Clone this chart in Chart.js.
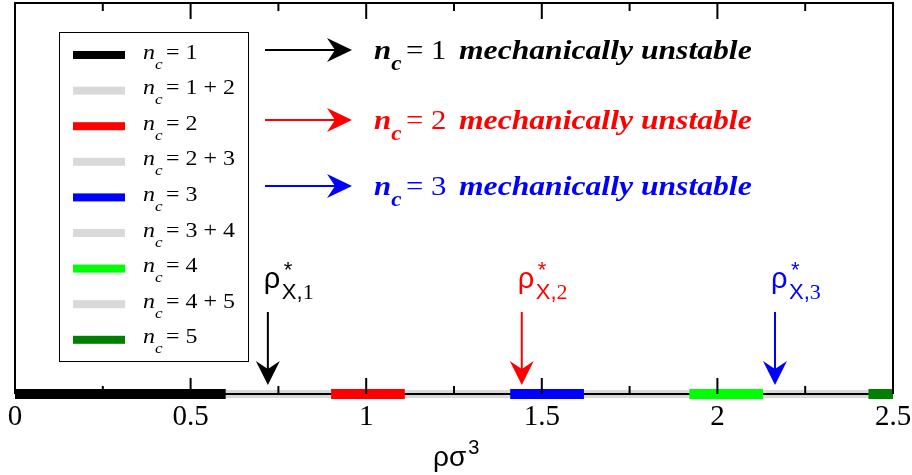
<!DOCTYPE html>
<html>
<head>
<meta charset="utf-8">
<script src="https://cdn.jsdelivr.net/npm/chart.js@4.4.1/dist/chart.umd.min.js"></script>
<style>
html,body{margin:0;padding:0;background:#fff;}
#wrap{width:912px;height:475px;}
.pre{position:absolute;left:-1000px;top:0;}
</style>
</head>
<body>
<div class="pre" style="font-family:'Liberation Serif'">n = 1 <i>n</i> <b><i>m</i></b></div>
<div class="pre" style="font-family:'Liberation Sans'">ρσ X,1</div>
<div id="wrap"><canvas id="c" width="912" height="475"></canvas></div>
<script>
// ---- data ----
const phaseLabels = ['1', '1 + 2', '2', '2 + 3', '3', '3 + 4', '4', '4 + 5', '5'];
const phaseStart  = [0.00, 0.60, 0.90, 1.11, 1.41, 1.62, 1.92, 2.13, 2.43];
const phaseEnd    = [0.60, 0.90, 1.11, 1.41, 1.62, 1.92, 2.13, 2.43, 2.50];
const phaseColors = ['#000000', '#d9d9d9', '#ff0000', '#d9d9d9', '#0000ff', '#d9d9d9', '#00ff00', '#d9d9d9', '#008000'];
const unstableNc      = ['1', '2', '3'];
const unstableDensity = [0.72, 1.443, 2.164];
const unstableColors  = ['#000000', '#ff0000', '#0000ff'];
const tickLabels = ['0', '0.5', '1', '1.5', '2', '2.5'];
const xMin = 0, xMax = 2.5;

const SERIF = "'Liberation Serif', 'Times New Roman', Tinos, 'DejaVu Serif', serif";
const SANS = "'Liberation Sans', Arial, sans-serif";

const datasets = [];
phaseLabels.forEach((lab, i) => {
  const mixture = lab.indexOf('+') >= 0;
  datasets.push({
    label: 'n_c = ' + lab,
    data: [{x: phaseStart[i], y: 0}, {x: phaseEnd[i], y: 0}],
    borderColor: phaseColors[i],
    backgroundColor: phaseColors[i],
    borderWidth: mixture ? 8 : 10,
    pointRadius: 0,
    borderCapStyle: 'butt',
    clip: false,
    order: mixture ? 3 : 1
  });
});
// axis base line (between mixture and pure-phase bands)
datasets.push({
  label: 'axis',
  data: [{x: xMin, y: 0}, {x: xMax, y: 0}],
  borderColor: '#000',
  borderWidth: 2,
  pointRadius: 0,
  clip: false,
  order: 2
});

function rightArrow(ctx, x0, x1, y, color) {
  ctx.save();
  ctx.strokeStyle = color; ctx.fillStyle = color; ctx.lineWidth = 2;
  ctx.beginPath(); ctx.moveTo(x0, y); ctx.lineTo(x1 - 8, y); ctx.stroke();
  ctx.beginPath();
  ctx.moveTo(x1, y);
  ctx.lineTo(x1 - 25, y - 12);
  ctx.lineTo(x1 - 17, y);
  ctx.lineTo(x1 - 25, y + 12);
  ctx.closePath(); ctx.fill();
  ctx.restore();
}
function downArrow(ctx, x, y0, y1, color) {
  ctx.save();
  ctx.strokeStyle = color; ctx.fillStyle = color; ctx.lineWidth = 2;
  ctx.beginPath(); ctx.moveTo(x, y0); ctx.lineTo(x, y1 - 8); ctx.stroke();
  ctx.beginPath();
  ctx.moveTo(x, y1);
  ctx.lineTo(x - 12, y1 - 24);
  ctx.lineTo(x, y1 - 16);
  ctx.lineTo(x + 12, y1 - 24);
  ctx.closePath(); ctx.fill();
  ctx.restore();
}
// draw text horizontally stretched by sx; returns advance width
function sText(ctx, txt, x, y, font, sx) {
  ctx.font = font;
  const w = ctx.measureText(txt).width;
  ctx.save();
  ctx.translate(x, y);
  ctx.scale(sx, 1);
  ctx.fillText(txt, 0, 0);
  ctx.restore();
  return w * sx;
}

const decor = {
  id: 'decor',
  afterDraw(chart) {
    const ctx = chart.ctx;
    const a = chart.chartArea;
    const xs = chart.scales.x;
    ctx.save();
    // frame (top, left, right)
    ctx.strokeStyle = '#000'; ctx.lineWidth = 2;
    ctx.beginPath();
    ctx.moveTo(a.left, a.bottom); ctx.lineTo(a.left, a.top);
    ctx.lineTo(a.right, a.top); ctx.lineTo(a.right, a.bottom);
    ctx.stroke();
    // inward ticks (bottom & top)
    ctx.lineWidth = 2;
    xs.ticks.forEach(t => {
      const px = xs.getPixelForValue(t.value);
      const major = Math.abs(t.value * 2 - Math.round(t.value * 2)) < 1e-6;
      const len = major ? 16 : 8;
      if (px <= a.left + 1 || px >= a.right - 1) return;
      ctx.beginPath();
      ctx.moveTo(px, a.bottom); ctx.lineTo(px, a.bottom - len);
      ctx.moveTo(px, a.top); ctx.lineTo(px, a.top + len);
      ctx.stroke();
    });
    // legend box
    ctx.lineWidth = 1;
    ctx.strokeStyle = '#000';
    ctx.fillStyle = '#fff';
    ctx.fillRect(59.5, 32.5, 189, 329);
    ctx.strokeRect(59.5, 32.5, 189, 329);
    ctx.textBaseline = 'alphabetic';
    ctx.textAlign = 'left';
    phaseLabels.forEach((lab, i) => {
      const cy = 55 + i * 35.6;
      ctx.fillStyle = phaseColors[i];
      ctx.fillRect(73, cy - 4, 52, 8);
      ctx.fillStyle = '#000';
      const wn = sText(ctx, 'n', 143, cy + 3.5, 'italic 21px ' + SERIF, 1.14);
      sText(ctx, 'c', 143 + wn, cy + 13.5, 'italic 15px ' + SERIF, 1.14);
      sText(ctx, '= ' + lab, 166, cy + 3.5, '21px ' + SERIF, 1.14);
    });
    // right-hand annotations
    const rowY = [50, 120, 186];
    unstableNc.forEach((nc, i) => {
      const y = rowY[i];
      const col = unstableColors[i];
      rightArrow(ctx, 265, 352, y, col);
      ctx.fillStyle = col;
      const base = y + 8.5;
      const wn = sText(ctx, 'n', 374, base, 'bold italic 28px ' + SERIF, 1.1);
      sText(ctx, 'c', 374 + wn, base + 11, 'bold italic 21px ' + SERIF, 1.1);
      sText(ctx, '= ' + nc, 406, base, '28px ' + SERIF, 1.1);
      sText(ctx, 'mechanically unstable', 459, base, 'bold italic 28px ' + SERIF, 1.13);
    });
    // density markers
    unstableDensity.forEach((v, i) => {
      const px = xs.getPixelForValue(v);
      const col = unstableColors[i];
      downArrow(ctx, px, 312, 385, col);
      ctx.fillStyle = col;
      ctx.font = '29px ' + SANS;
      ctx.fillText('\u03C1', px - 4, 288);
      ctx.font = '22px ' + SANS;
      ctx.fillText('*', px + 16, 277);
      ctx.fillText('X,', px + 14, 299);
      const wx = ctx.measureText('X,').width;
      ctx.font = '22px ' + SERIF;
      ctx.fillText(unstableNc[i], px + 14 + wx, 299);
    });
    // axis title
    ctx.fillStyle = '#000';
    ctx.font = '28px ' + SANS;
    ctx.fillText('\u03C1\u03C3', 433, 466);
    const wr = ctx.measureText('\u03C1\u03C3').width;
    ctx.font = '20px ' + SANS;
    ctx.fillText('3', 433 + wr + 2, 454);
    ctx.restore();
  }
};

function build() {
  new Chart(document.getElementById('c'), {
    type: 'line',
    data: { datasets },
    options: {
      responsive: false,
      animation: false,
      devicePixelRatio: 1,
      layout: { padding: { left: 15, right: 19, top: 3, bottom: 0 } },
      plugins: { legend: { display: false }, tooltip: { enabled: false } },
      scales: {
        x: {
          type: 'linear', min: xMin, max: xMax,
          grid: { display: false, drawTicks: false },
          border: { display: false },
          ticks: {
            stepSize: 0.25, autoSkip: false, maxRotation: 0, padding: 6,
            color: '#000',
            font: { family: SERIF, size: 29 },
            callback: (v) => {
              const k = Math.round(v * 2);
              return Math.abs(v * 2 - k) < 1e-6 ? tickLabels[k] : '';
            }
          },
          afterFit: (s) => { s.height = 81; s.paddingLeft = 0; s.paddingRight = 0; }
        },
        y: { display: false, min: 0, max: 1 }
      }
    },
    plugins: [decor]
  });
}
const loads = [
  '22px "Liberation Serif"', 'italic 22px "Liberation Serif"', 'bold italic 22px "Liberation Serif"',
  '22px "Liberation Sans"'
].map(f => document.fonts.load(f).catch(() => null));
Promise.all(loads).then(build, build);
</script>
</body>
</html>
